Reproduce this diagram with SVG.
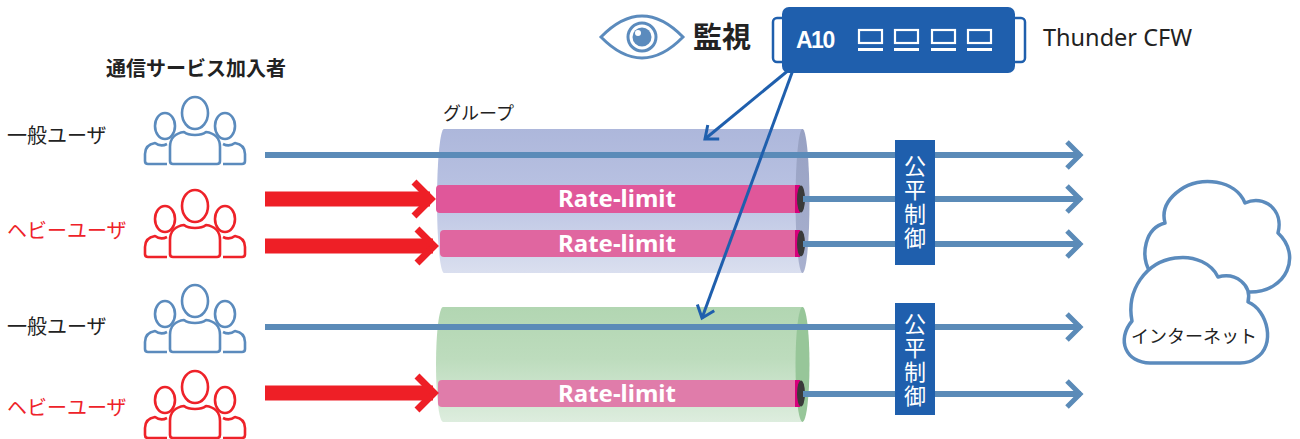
<svg xmlns="http://www.w3.org/2000/svg" xmlns:xlink="http://www.w3.org/1999/xlink" width="1300" height="439" viewBox="0 0 1300 439">
  <style>
    .jp { font-family: "Noto Sans CJK JP", "Noto Sans", sans-serif; }
    .lbl { font-size: 20px; fill: #222; }
    .heavy { fill: #ee2229; }
    .rate { font-family: "Noto Sans", "Noto Sans CJK JP", sans-serif; font-weight: 700; font-size: 24px; fill: #fff; text-anchor: middle; }
    .fair { font-size: 22px; fill: #fff; text-anchor: middle; writing-mode: vertical-rl; letter-spacing: 2px; }
    .flow { stroke: #5b8bb8; stroke-width: 6; fill: none; }
    .heavyflow { stroke: #ee1f26; stroke-width: 15; fill: none; }
    .ptr { stroke: #1f5fad; stroke-width: 3; fill: none; }
    .crowd { fill: none; stroke: currentColor; stroke-width: 2.6; stroke-linejoin: round; }
    .tap { fill: #d6007b; }
    .hole { fill: #3a3a3a; }
  </style>
  <defs>
    <linearGradient id="gBlue" x1="0" y1="0" x2="0" y2="1">
      <stop offset="0" stop-color="#adb7db"/>
      <stop offset="0.45" stop-color="#b9c2e2"/>
      <stop offset="1" stop-color="#dadfef"/>
    </linearGradient>
    <linearGradient id="gBlueCap" x1="0" y1="0" x2="0" y2="1">
      <stop offset="0" stop-color="#97a1c3"/>
      <stop offset="1" stop-color="#a9b1cf"/>
    </linearGradient>
    <linearGradient id="gGreen" x1="0" y1="0" x2="0" y2="1">
      <stop offset="0" stop-color="#b2d6b2"/>
      <stop offset="0.45" stop-color="#bddcbd"/>
      <stop offset="1" stop-color="#ddedde"/>
    </linearGradient>
    <marker id="chevBlue" markerUnits="userSpaceOnUse" markerWidth="34" markerHeight="40" refX="27" refY="20" orient="auto">
      <path d="M 13 7 L 26 20 L 13 33" fill="none" stroke="#5b8bb8" stroke-width="5"/>
    </marker>
    <marker id="chevRed" markerUnits="userSpaceOnUse" markerWidth="40" markerHeight="44" refX="30" refY="22" orient="auto">
      <path d="M 14 5 L 31 22 L 14 39" fill="none" stroke="#ee1f26" stroke-width="7"/>
    </marker>
    <marker id="chevPtr" markerUnits="userSpaceOnUse" markerWidth="30" markerHeight="30" refX="20" refY="15" orient="auto">
      <path d="M 9 6 L 20 15 L 9 24" fill="none" stroke="#1f5fad" stroke-width="3"/>
    </marker>
    <!-- three-person outline icon, origin at the top of the middle head -->
    <g id="crowd" class="crowd">
      <ellipse cx="0" cy="16" rx="13" ry="16"/>
      <path d="M -22 67 Q -25 67 -25 64 V 50 C -25 41 -19 36 -11 35 C -6 39 6 39 11 35 C 19 36 25 41 25 50 V 64 Q 25 67 22 67 Z"/>
      <ellipse cx="-30" cy="29" rx="10" ry="13"/>
      <path d="M -28 67 H -47 Q -50 67 -50 64 V 57 C -50 50 -46 47 -40 46 C -36 49 -32 49 -28 47"/>
      <ellipse cx="30" cy="29" rx="10" ry="13"/>
      <path d="M 28 67 H 47 Q 50 67 50 64 V 57 C 50 50 46 47 40 46 C 36 49 32 49 28 47"/>
    </g>
  </defs>

  <rect width="1300" height="439" fill="#fff"/>

  <!-- subscriber heading -->
  <text class="jp" x="106" y="76" font-size="20" font-weight="700" fill="#222">通信サービス加入者</text>

  <!-- subscriber rows -->
  <g id="user-normal-1">
    <text class="jp lbl" x="7" y="143">一般ユーザ</text>
    <use href="#crowd" x="195" y="97" style="color:#5b8bbd"/>
  </g>
  <g id="user-heavy-1">
    <text class="jp lbl heavy" x="7" y="238">ヘビーユーザ</text>
    <use href="#crowd" x="195" y="190" style="color:#ee2229"/>
  </g>
  <g id="user-normal-2">
    <text class="jp lbl" x="7" y="334">一般ユーザ</text>
    <use href="#crowd" x="195" y="285" style="color:#5b8bbd"/>
  </g>
  <g id="user-heavy-2">
    <text class="jp lbl heavy" x="7" y="415">ヘビーユーザ</text>
    <use href="#crowd" x="195" y="371" style="color:#ee2229"/>
  </g>

  <!-- group pipes -->
  <g id="group-1">
    <text class="jp" x="443" y="120" font-size="18" fill="#222">グループ</text>
    <path d="M 444 129 H 803 V 273 H 444 A 7 72 0 0 1 444 129 Z" fill="url(#gBlue)"/>
    <ellipse cx="802.5" cy="201" rx="7" ry="72" fill="url(#gBlueCap)"/>
  </g>
  <g id="group-2">
    <path d="M 443 307 H 803 V 422 H 443 A 7 57.5 0 0 1 443 307 Z" fill="url(#gGreen)"/>
    <ellipse cx="802.5" cy="364.5" rx="7" ry="57.5" fill="#97c699"/>
  </g>

  <!-- per-subscriber rate limiters -->
  <g id="rate-limit-1">
    <rect x="436" y="185" width="362" height="28" rx="4" fill="#e0579a"/>
    <rect x="795" y="185" width="5" height="28" class="tap"/>
    <ellipse cx="801" cy="199" rx="4" ry="13.5" class="hole"/>
    <text class="rate" x="617" y="207">Rate-limit</text>
  </g>
  <g id="rate-limit-2">
    <rect x="440" y="230" width="358" height="27" rx="4" fill="#e066a0"/>
    <rect x="795" y="230" width="5" height="27" class="tap"/>
    <ellipse cx="801" cy="243.5" rx="4" ry="13" class="hole"/>
    <text class="rate" x="617" y="252">Rate-limit</text>
  </g>
  <g id="rate-limit-3">
    <rect x="438" y="380" width="360" height="27" rx="4" fill="#e07caa"/>
    <rect x="795" y="380" width="5" height="27" class="tap"/>
    <ellipse cx="801" cy="393.5" rx="4" ry="13" class="hole"/>
    <text class="rate" x="617" y="402">Rate-limit</text>
  </g>

  <!-- traffic flows and monitoring pointers -->
  <g id="connectors">
    <line class="flow" x1="265" y1="155" x2="1081" y2="155" marker-end="url(#chevBlue)"/>
    <line class="flow" x1="803" y1="199" x2="1081" y2="199" marker-end="url(#chevBlue)"/>
    <line class="flow" x1="803" y1="244" x2="1081" y2="244" marker-end="url(#chevBlue)"/>
    <line class="flow" x1="265" y1="327" x2="1081" y2="327" marker-end="url(#chevBlue)"/>
    <line class="flow" x1="803" y1="394" x2="1081" y2="394" marker-end="url(#chevBlue)"/>
    <line class="heavyflow" x1="265" y1="199" x2="430" y2="199" marker-end="url(#chevRed)"/>
    <line class="heavyflow" x1="265" y1="246" x2="433" y2="246" marker-end="url(#chevRed)"/>
    <line class="heavyflow" x1="265" y1="393" x2="433" y2="393" marker-end="url(#chevRed)"/>
    <line class="ptr" x1="790" y1="69" x2="705" y2="139" marker-end="url(#chevPtr)"/>
    <line class="ptr" x1="793" y1="70" x2="702" y2="318" marker-end="url(#chevPtr)"/>
  </g>

  <!-- fair-share controllers -->
  <g id="fair-control-1">
    <rect x="895" y="140" width="40" height="125" fill="#1f5fad"/>
    <text class="jp fair" x="915" y="203">公平制御</text>
  </g>
  <g id="fair-control-2">
    <rect x="895" y="303" width="40" height="112" fill="#1f5fad"/>
    <text class="jp fair" x="915" y="361">公平制御</text>
  </g>

  <!-- monitoring -->
  <g id="monitor">
    <path d="M 601 37 Q 642 -5 683 37 Q 642 79 601 37 Z" fill="#fff" stroke="#5b8bbd" stroke-width="3"/>
    <circle cx="642" cy="37" r="14" fill="#fff" stroke="#5b8bbd" stroke-width="3"/>
    <circle cx="642" cy="37" r="9.5" fill="#5b8bbd"/>
    <circle cx="638" cy="33" r="3" fill="#fff"/>
    <text class="jp" x="693" y="48" font-size="29" font-weight="700" fill="#222">監視</text>
  </g>

  <!-- Thunder CFW appliance -->
  <g id="thunder-cfw">
    <rect x="773" y="18" width="18" height="44" rx="4" fill="#fff" stroke="#1f5fad" stroke-width="2.5"/>
    <rect x="1007" y="18" width="18" height="44" rx="4" fill="#fff" stroke="#1f5fad" stroke-width="2.5"/>
    <rect x="782" y="7" width="233" height="66" rx="7" fill="#1f5fad"/>
    <text x="796" y="48" font-family="Liberation Sans, Arial, sans-serif" font-size="23" font-weight="700" letter-spacing="-1.5" fill="#fff">A10</text>
    <g fill="none" stroke="#fff" stroke-width="2.2">
      <rect x="859" y="30" width="23" height="13"/>
      <rect x="895" y="30" width="23" height="13"/>
      <rect x="932" y="30" width="23" height="13"/>
      <rect x="968" y="30" width="23" height="13"/>
    </g>
    <g fill="#fff">
      <rect x="858" y="48" width="25" height="3"/>
      <rect x="894" y="48" width="25" height="3"/>
      <rect x="931" y="48" width="25" height="3"/>
      <rect x="967" y="48" width="25" height="3"/>
    </g>
    <text x="1043" y="46" font-family="Noto Sans, sans-serif" font-size="23.5" fill="#222">Thunder CFW</text>
  </g>

  <!-- internet clouds -->
  <g id="internet">
    <path d="M 1250 292 C 1287 292 1302 255 1278 233 C 1284 210 1264 194 1245 203 C 1236 180 1200 175 1180 190 C 1166 200 1162 212 1165 223 C 1145 228 1140 255 1150 272 L 1160 292 Z" fill="#fff" stroke="#5b8bbd" stroke-width="3.5" stroke-linejoin="round"/>
    <path d="M 1150 363 C 1126 363 1116 340 1132 321 C 1126 290 1146 262 1175 258 C 1195 255 1212 264 1218 277 C 1236 272 1252 285 1248 302 C 1268 310 1276 346 1256 358 C 1251 362 1246 363 1240 363 Z" fill="#fff" stroke="#5b8bbd" stroke-width="3.5" stroke-linejoin="round"/>
    <text class="jp" x="1131" y="343" font-size="18" fill="#222">インターネット</text>
  </g>
</svg>
